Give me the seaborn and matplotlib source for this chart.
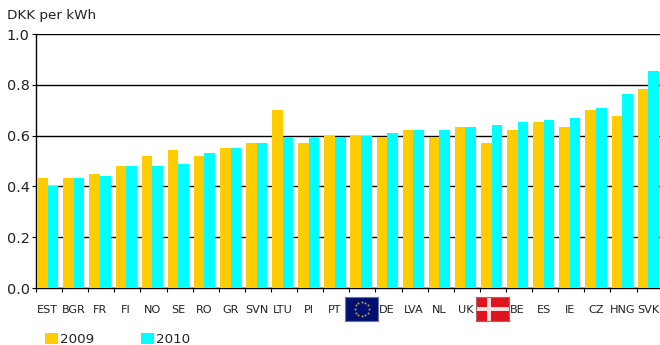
import numpy as np
import pandas as pd
import matplotlib
matplotlib.use("Agg")
import matplotlib.pyplot as plt
from matplotlib.patches import Rectangle
import seaborn as sns

categories = ["EST", "BGR", "FR", "FI", "NO", "SE", "RO", "GR", "SVN", "LTU", "PI", "PT",
              "EU", "DE", "LVA", "NL", "UK", "DK", "BE", "ES", "IE", "CZ", "HNG", "SVK"]
tick_labels = ["EST", "BGR", "FR", "FI", "NO", "SE", "RO", "GR", "SVN", "LTU", "PI", "PT",
               "", "DE", "LVA", "NL", "UK", "", "BE", "ES", "IE", "CZ", "HNG", "SVK"]
values_2009 = [0.435, 0.435, 0.45, 0.48, 0.52, 0.545, 0.52, 0.552, 0.57, 0.70, 0.57, 0.60,
               0.60, 0.594, 0.624, 0.594, 0.632, 0.57, 0.624, 0.655, 0.632, 0.70, 0.678, 0.785]
values_2010 = [0.40, 0.435, 0.44, 0.48, 0.48, 0.49, 0.53, 0.552, 0.57, 0.594, 0.594, 0.594,
               0.60, 0.61, 0.624, 0.624, 0.632, 0.64, 0.655, 0.662, 0.67, 0.708, 0.762, 0.855]
years = ["2009", "2010"]
colors = ["#FFCC00", "#00FFFF"]
y_ticks = [0.0, 0.2, 0.4, 0.6, 0.8, 1.0]

sns.set_theme(style="white")
plt.rcParams["font.family"] = ["DejaVu Sans"]

df = pd.DataFrame({
    "country": categories * 2,
    "price": values_2009 + values_2010,
    "year": [years[0]] * len(categories) + [years[1]] * len(categories),
})

fig = plt.figure(figsize=(6.6, 3.45), dpi=100)
ax = fig.add_axes([36 / 660, 1 - 288 / 345, 624 / 660, 254 / 345])
sns.barplot(data=df, x="country", y="price", hue="year", order=categories,
            hue_order=years, palette=colors, width=0.81, gap=0, saturation=1,
            linewidth=0, legend=False, ax=ax, zorder=3)

left_edge = -0.45
ax.set_xlim(left_edge, left_edge + 23.9)
ax.set_ylim(0, 1.0)
ax.set_xlabel("")
ax.set_ylabel("")
ax.set_yticks(y_ticks)
ax.set_yticklabels([f"{t:.1f}" for t in y_ticks], fontsize=10.4, color="#222222")
ax.set_xticks(range(len(categories)))
ax.set_xticklabels(tick_labels, fontsize=8.1, color="#222222")
ax.tick_params(axis="x", which="major", length=0, pad=12)
ax.set_xticks(np.arange(len(categories)) + left_edge + 1e-6, minor=True)
ax.tick_params(axis="x", which="minor", length=3, width=0.8, color="black", bottom=True)
ax.tick_params(axis="y", length=3, width=0.8, color="black", left=True, pad=1.5)
ax.yaxis.grid(True, color="black", linewidth=1.0, zorder=1)
ax.set_axisbelow(True)
for side in ["top", "right"]:
    ax.spines[side].set_visible(False)
for side in ["left", "bottom"]:
    ax.spines[side].set_color("black")
    ax.spines[side].set_linewidth(1.0)


def flag_axes(name):
    """Small flag placed in the tick-label row of a category."""
    i = categories.index(name)
    cx = (ax.transData.transform((i, 0))[0] + 0.8) / fig.bbox.width
    w, h = 33 / 660, 24 / 345
    return fig.add_axes([cx - w / 2, 1 - 321 / 345, w, h], xticks=[], yticks=[])


eu = flag_axes("EU")
eu.set_xlim(-1.5, 1.5)
eu.set_ylim(-1, 1)
eu.set_facecolor("#00106E")
angles = np.deg2rad(np.arange(0, 360, 30))
eu.scatter(0.62 * np.cos(angles), 0.62 * np.sin(angles), s=2.2, color="#B89A3A", marker="o", linewidths=0)
for s in eu.spines.values():
    s.set_color("#6B75A8")
    s.set_linewidth(0.8)

dk = flag_axes("DK")
dk.set_xlim(0, 33)
dk.set_ylim(0, 24)
dk.set_facecolor("#E0141E")
dk.axvline(13, color="#F6E4E4", linewidth=2.8)
dk.axhline(12, color="#F6E4E4", linewidth=2.8)
for s in dk.spines.values():
    s.set_color("#B0606A")
    s.set_linewidth(0.8)

fig.text(7 / 660, 1 - 16 / 345, "DKK per kWh", fontsize=9.7, color="#222222",
         ha="left", va="center")

for x0, year, col in zip([45, 141], years, colors):
    fig.patches.append(Rectangle((x0 / 660, 1 - 344 / 345), 13 / 660, 11 / 345,
                                 transform=fig.transFigure, facecolor=col,
                                 edgecolor="none", figure=fig))
    fig.text((x0 + 15) / 660, 1 - 339.5 / 345, year, fontsize=9.7, color="#222222",
             ha="left", va="center")

fig.savefig("out.png", dpi=100)
